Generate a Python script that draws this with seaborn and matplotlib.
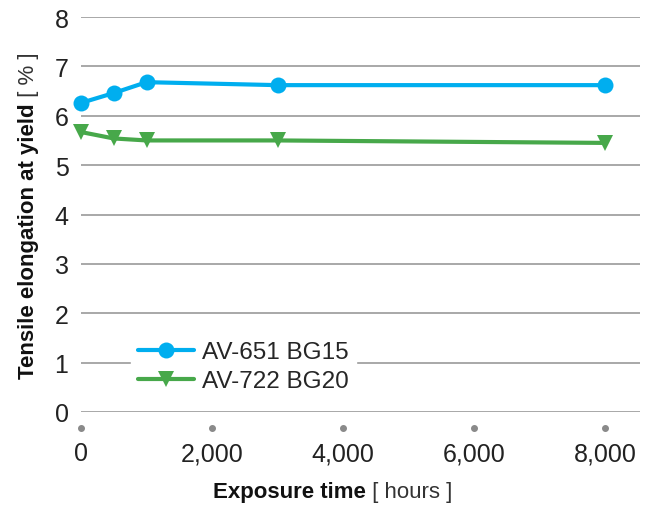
import matplotlib
matplotlib.use("Agg")
import matplotlib.pyplot as plt
import matplotlib.transforms as mtransforms
import seaborn as sns
import pandas as pd
from matplotlib.ticker import FuncFormatter

hours = [0, 500, 1000, 3000, 8000]
av651 = [6.26, 6.46, 6.68, 6.62, 6.62]
av722 = [5.67, 5.54, 5.50, 5.50, 5.45]
series_names = ["AV-651 BG15", "AV-722 BG20"]
x_ticks = [0, 2000, 4000, 6000, 8000]
y_ticks = [0, 1, 2, 3, 4, 5, 6, 7, 8]

df = pd.DataFrame({
    "hours": hours * 2,
    "value": av651 + av722,
    "series": [series_names[0]] * len(hours) + [series_names[1]] * len(hours),
})

sns.set_theme(style="white")
plt.rcParams["font.family"] = ["Liberation Sans", "DejaVu Sans"]

fig = plt.figure(figsize=(6.54, 5.06), dpi=100)
ax_left, ax_bottom = 81 / 654, (506 - 413) / 506
ax_w, ax_h = (640 - 81) / 654, (413 - 18) / 506
ax = fig.add_axes([ax_left, ax_bottom, ax_w, ax_h])

colors = {series_names[0]: "#00AEEF", series_names[1]: "#47A84A"}
markers = {series_names[0]: "o", series_names[1]: "v"}
sns.lineplot(data=df, x="hours", y="value", hue="series", style="series",
             palette=colors, markers=markers, dashes=False, linewidth=3,
             markersize=11.5, markeredgewidth=0, ax=ax, zorder=3)
for ln in ax.lines:
    ln.set_clip_on(False)

ax.set_xlim(0, 8534)
ax.set_ylim(0, 8)
ax.set_yticks(y_ticks)
ax.set_xticks(x_ticks)
ax.xaxis.set_major_formatter(FuncFormatter(lambda v, p: f"{int(v):,}"))
ax.yaxis.grid(True, color="#9a9a9a", linewidth=1.2)
ax.xaxis.grid(False)
for s in ax.spines.values():
    s.set_visible(False)
ax.tick_params(axis="both", length=0, labelsize=18, colors="#222222")
ax.tick_params(axis="x", pad=21)
ax.tick_params(axis="y", pad=9)

# dot tick markers below the axis
trans = mtransforms.blended_transform_factory(ax.transData, ax.transAxes)
ax.scatter(x_ticks, [-0.0405] * len(x_ticks), s=16, color="#8a8a8a",
           transform=trans, clip_on=False, zorder=4)

ax.set_xlabel("")
ax.set_ylabel("")

r = fig.canvas.get_renderer()
# x label: bold part + normal part
t1 = fig.text(0.4, 0.015, "Exposure time", fontsize=16, fontweight="bold",
              ha="left", va="baseline", color="#111111")
t2 = ax.annotate(" [ hours ]", xy=(1, 0), xycoords=t1, fontsize=16,
                 ha="left", va="bottom", color="#333333")
fig.canvas.draw()
w1 = t1.get_window_extent(r).width
w2 = t2.get_window_extent(r).width
cx = 333 / 654
t1.set_x(cx - (w1 + w2) / 2 / fig.bbox.width)

# y label: bold part + normal part
ty1 = fig.text(0.027, 0.2, "Tensile elongation at yield", fontsize=16,
               fontweight="bold", rotation=90, ha="left", va="bottom",
               color="#111111")
ty2 = ax.annotate(" [ % ]", xy=(0, 1), xycoords=ty1, fontsize=16,
                  rotation=90, ha="left", va="bottom", color="#333333")
fig.canvas.draw()
h1 = ty1.get_window_extent(r).height
h2 = ty2.get_window_extent(r).height
cy = 1 - (216 / 506)
ty1.set_y(cy - (h1 + h2) / 2 / fig.bbox.height)

leg = ax.legend(loc="lower left", bbox_to_anchor=(0.068, 0.001), frameon=True,
                fontsize=17.5, handlelength=2.3, handletextpad=0.3,
                borderpad=0.3, labelspacing=0.28, markerscale=1.0)
leg.get_frame().set_facecolor("white")
leg.get_frame().set_edgecolor("white")
leg.get_frame().set_alpha(1)
leg.set_zorder(5)

fig.savefig("out.png", dpi=100)
